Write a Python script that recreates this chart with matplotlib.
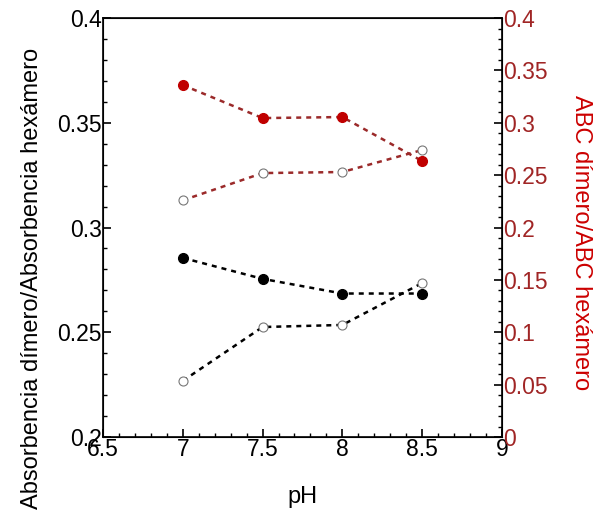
import matplotlib
matplotlib.use('Agg')
import matplotlib.pyplot as plt
from matplotlib.ticker import MultipleLocator

plt.rcParams['font.family'] = ['Liberation Sans', 'DejaVu Sans']

ph = [7, 7.5, 8, 8.5]
# eje izquierdo
abs_filled = [0.2855, 0.2755, 0.2685, 0.2685]
abs_open = [0.2268, 0.2525, 0.2535, 0.2735]
# eje derecho
abc_filled = [0.336, 0.3045, 0.3055, 0.2635]
abc_open = [0.226, 0.252, 0.253, 0.274]

RED_LINE = '#9b2a2a'
RED_MARK = '#c00000'
RED_TICK = '#a02525'
RED_LABEL = '#cc0000'

fig = plt.figure(figsize=(5.94, 5.25), dpi=100)
ax = fig.add_axes([0.1734, 0.1676, 0.6716, 0.798])
ax2 = ax.twinx()

ax.plot(ph, abs_filled, linestyle='--', color='black', lw=1.8, dashes=(2, 2),
        marker='o', markersize=7, markerfacecolor='black', markeredgecolor='black')
ax.plot(ph, abs_open, linestyle='--', color='black', lw=1.8, dashes=(2, 2),
        marker='o', markersize=6.5, markerfacecolor='white', markeredgecolor='#777777', markeredgewidth=0.8)

ax2.plot(ph, abc_filled, linestyle='--', color=RED_LINE, lw=1.8, dashes=(2, 2),
         marker='o', markersize=7, markerfacecolor=RED_MARK, markeredgecolor=RED_MARK)
ax2.plot(ph, abc_open, linestyle='--', color=RED_LINE, lw=1.8, dashes=(2, 2),
         marker='o', markersize=6.5, markerfacecolor='white', markeredgecolor='#777777', markeredgewidth=0.8)

ax.set_xlim(6.5, 9)
ax.set_ylim(0.2, 0.4)
ax2.set_ylim(0, 0.4)

ax.xaxis.set_major_locator(MultipleLocator(0.5))
ax.xaxis.set_minor_locator(MultipleLocator(0.1))
ax.yaxis.set_major_locator(MultipleLocator(0.05))
ax.yaxis.set_minor_locator(MultipleLocator(0.01))
ax2.yaxis.set_major_locator(MultipleLocator(0.05))
ax2.yaxis.set_minor_locator(MultipleLocator(0.01))

ax.set_xticklabels([f'{v:g}' for v in ax.get_xticks()])
ax.set_yticklabels([f'{v:g}' for v in ax.get_yticks()])
ax2.set_yticklabels([f'{v:g}' for v in ax2.get_yticks()])

ax.tick_params(axis='both', which='major', direction='in', length=6, width=1.2,
               labelsize=16.5, top=False)
ax.tick_params(axis='both', which='minor', direction='in', length=3, width=1, top=False)
ax.tick_params(axis='x', which='major', pad=1)
ax.tick_params(axis='y', which='major', pad=1)
ax2.tick_params(axis='y', which='major', direction='in', length=6, width=1.2,
                labelsize=16.5, labelcolor=RED_TICK, pad=1)
ax2.tick_params(axis='y', which='minor', direction='in', length=3, width=1)

for sp in ax.spines.values():
    sp.set_linewidth(1.2)

ax.set_xlabel('pH', fontsize=17, labelpad=18)
ax.set_ylabel('Absorbencia dímero/Absorbencia hexámero', fontsize=17, labelpad=10)
ax.yaxis.label.set_y(0.379)
ax2.set_ylabel('ABC dímero/ABC hexámero', fontsize=17, color=RED_LABEL,
               rotation=270, labelpad=32)
ax2.yaxis.label.set_y(0.463)

plt.savefig('out.png', dpi=100)
